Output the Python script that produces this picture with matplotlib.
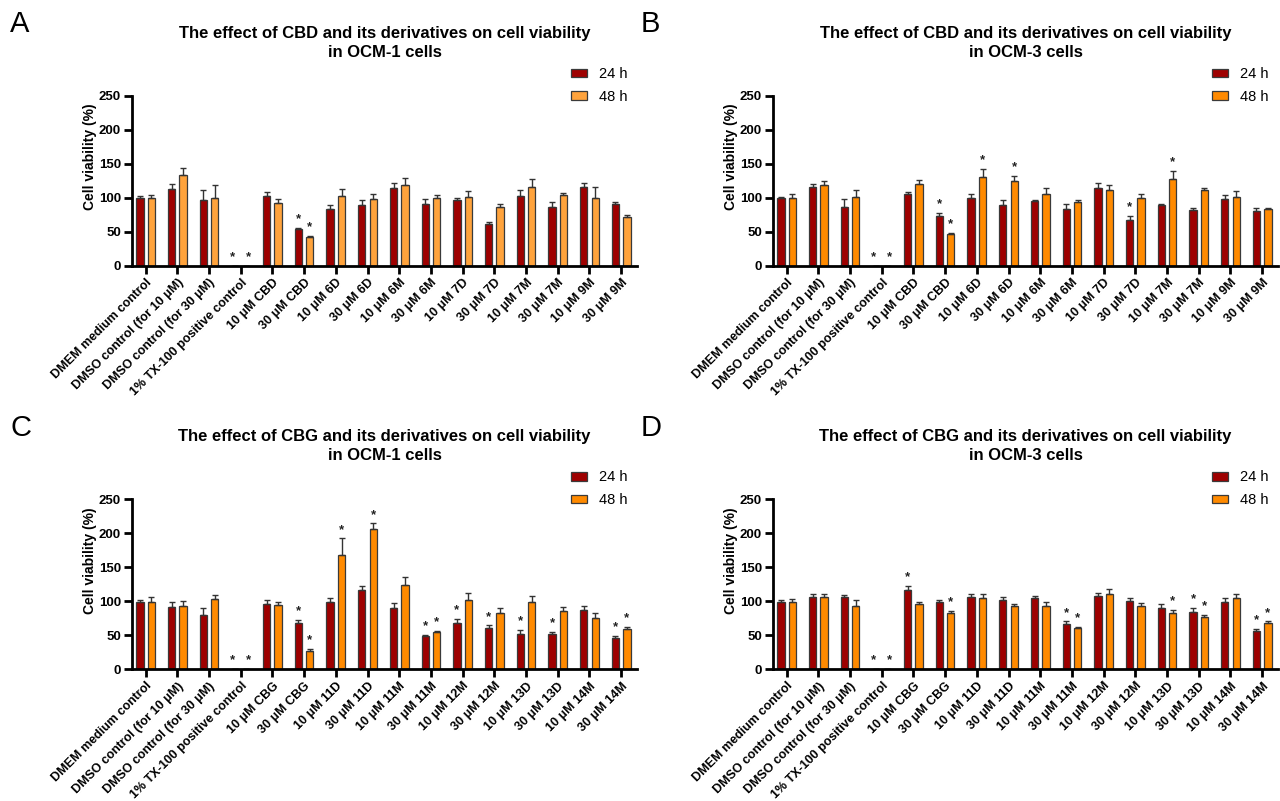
import matplotlib
matplotlib.use("Agg")
import matplotlib.pyplot as plt
from matplotlib.patches import Patch
import numpy as np

plt.rcParams['font.family'] = ['Liberation Sans', 'DejaVu Sans']

# ---------------- data ----------------
cats_cbd = ["DMEM medium control", "DMSO control (for 10 μM)", "DMSO control (for 30 μM)",
            "1% TX-100 positive control", "10 μM CBD", "30 μM CBD", "10 μM 6D", "30 μM 6D",
            "10 μM 6M", "30 μM 6M", "10 μM 7D", "30 μM 7D", "10 μM 7M", "30 μM 7M",
            "10 μM 9M", "30 μM 9M"]
cats_cbg = ["DMEM medium control", "DMSO control (for 10 μM)", "DMSO control (for 30 μM)",
            "1% TX-100 positive control", "10 μM CBG", "30 μM CBG", "10 μM 11D", "30 μM 11D",
            "10 μM 11M", "30 μM 11M", "10 μM 12M", "30 μM 12M", "10 μM 13D", "30 μM 13D",
            "10 μM 14M", "30 μM 14M"]

A_v24 = [99, 113, 96, 0, 103, 54, 83, 89, 115, 91, 96, 62, 102, 87, 116, 91]
A_e24 = [3, 7, 15, 0, 5, 2, 6, 8, 6, 7, 4, 3, 9, 7, 6, 3]
A_v48 = [99, 134, 100, 0, 92, 42, 103, 98, 119, 99, 101, 87, 116, 104, 99, 72]
A_e48 = [5, 10, 19, 0, 6, 2, 10, 7, 10, 5, 9, 4, 11, 3, 17, 2]
A_s24 = [3, 5]
A_s48 = [3, 5]

B_v24 = [99, 116, 86, 0, 105, 73, 99, 90, 95, 84, 115, 67, 89, 82, 98, 81]
B_e24 = [2, 4, 12, 0, 4, 4, 6, 7, 2, 7, 6, 6, 2, 3, 6, 4]
B_v48 = [99, 118, 101, 0, 120, 46, 130, 124, 106, 93, 112, 100, 128, 112, 101, 83]
B_e48 = [6, 7, 11, 0, 6, 2, 12, 8, 9, 3, 6, 6, 11, 3, 9, 2]
B_s24 = [3, 5, 11]
B_s48 = [3, 5, 6, 7, 12]

C_v24 = [99, 91, 80, 0, 95, 68, 98, 116, 90, 49, 68, 61, 52, 51, 87, 46]
C_e24 = [3, 7, 9, 0, 6, 4, 7, 6, 7, 1.5, 5, 3, 5, 3, 6, 2]
C_v48 = [99, 92, 103, 0, 94, 26, 168, 206, 124, 54, 102, 83, 98, 85, 75, 59]
C_e48 = [7, 8, 6, 0, 5, 3, 24, 8, 11, 2.5, 10, 6, 9, 6, 7, 3]
C_s24 = [3, 5, 9, 10, 11, 12, 13, 15]
C_s48 = [3, 5, 6, 7, 9, 15]

D_v24 = [99, 106, 106, 0, 116, 98, 106, 101, 104, 66, 107, 100, 89, 84, 99, 56]
D_e24 = [2, 5, 3, 0, 6, 4, 5, 5, 4, 4, 5, 5, 6, 6, 5, 3]
D_v48 = [99, 106, 92, 0, 95, 83, 105, 92, 92, 60, 111, 92, 83, 77, 105, 68]
D_e48 = [4, 5, 10, 0, 4, 3, 5, 4, 6, 2, 7, 5, 4, 3, 5, 2]
D_s24 = [3, 4, 9, 13, 15]
D_s48 = [3, 5, 9, 12, 13, 15]

titles = ["The effect of CBD and its derivatives on cell viability\nin OCM-1 cells",
          "The effect of CBD and its derivatives on cell viability\nin OCM-3 cells",
          "The effect of CBG and its derivatives on cell viability\nin OCM-1 cells",
          "The effect of CBG and its derivatives on cell viability\nin OCM-3 cells"]
letters = ["A", "B", "C", "D"]
yticks = [0, 50, 100, 150, 200, 250]
series_labels = ["24 h", "48 h"]

RED = "#9E0000"
ORANGE_LIGHT = "#FFA33C"
ORANGE = "#FF8A00"

W, H = 1280, 801
fig = plt.figure(figsize=(W / 100, H / 100), dpi=100)

def ax_rect(left_px, bottom_px):
    w = 505
    h = 170
    return [left_px / W, (H - bottom_px) / H, w / W, h / H]

panels = [
    (ax_rect(132, 265.7), cats_cbd, A_v24, A_e24, A_v48, A_e48, A_s24, A_s48, ORANGE_LIGHT, (10, 24)),
    (ax_rect(773, 265.7), cats_cbd, B_v24, B_e24, B_v48, B_e48, B_s24, B_s48, ORANGE, (641, 24)),
    (ax_rect(132, 669), cats_cbg, C_v24, C_e24, C_v48, C_e48, C_s24, C_s48, ORANGE, (10, 428)),
    (ax_rect(773, 669), cats_cbg, D_v24, D_e24, D_v48, D_e48, D_s24, D_s48, ORANGE, (641, 428)),
]

off = 0.18
bw = 0.23
for i, (rect, cats, v24, e24, v48, e48, s24, s48, c48, lpos) in enumerate(panels):
    ax = fig.add_axes(rect)
    x = np.arange(len(cats))
    ekw = dict(ecolor="#333333", elinewidth=1.0, capsize=2.2, capthick=1.0)
    ax.bar(x - off, v24, bw, color=RED, edgecolor="#3a3a3a", linewidth=0.9,
           yerr=[np.zeros(len(e24)), e24], error_kw=ekw, zorder=2)
    ax.bar(x + off, v48, bw, color=c48, edgecolor="#3a3a3a", linewidth=0.9,
           yerr=[np.zeros(len(e48)), e48], error_kw=ekw, zorder=2)
    for idx in s24:
        dx = -0.26 if v24[idx] == 0 else -off
        ax.text(x[idx] + dx, v24[idx] + e24[idx] + 4, "*", ha="center", va="bottom",
                fontsize=9.5, fontweight="bold", color="#222222")
    for idx in s48:
        dx = 0.26 if v48[idx] == 0 else off
        ax.text(x[idx] + dx, v48[idx] + e48[idx] + 4, "*", ha="center", va="bottom",
                fontsize=9.5, fontweight="bold", color="#222222")
    ax.set_xlim(-0.43, len(cats) - 0.5)
    ax.set_ylim(0, 250)
    ax.set_yticks(yticks)
    ax.set_yticklabels([str(t) for t in yticks], fontsize=9.5, fontweight="bold")
    ax.set_xticks(x)
    ax.set_xticklabels(cats, rotation=45, ha="right", rotation_mode="anchor",
                       fontsize=9.0, fontweight="bold")
    ax.spines["top"].set_visible(False)
    ax.spines["right"].set_visible(False)
    ax.spines["left"].set_linewidth(2)
    ax.spines["bottom"].set_linewidth(2)
    ax.tick_params(axis="both", direction="out", length=6, width=2, pad=2)
    ax.set_ylabel("Cell viability (%)", fontsize=10, fontweight="bold")
    ax.yaxis.set_label_coords(-0.069, 0.64)
    ax.set_title(titles[i], fontsize=12, fontweight="bold", pad=28, linespacing=1.35)
    handles = [Patch(facecolor=RED, edgecolor="#3a3a3a", linewidth=0.9),
               Patch(facecolor=c48, edgecolor="#3a3a3a", linewidth=0.9)]
    ax.legend(handles, series_labels, loc="center left", bbox_to_anchor=(0.855, 1.06),
              frameon=False, fontsize=10.5, handlelength=1.1, handleheight=0.55,
              labelspacing=0.6, handletextpad=0.8, borderpad=0)
    fig.text(lpos[0] / W, 1 - lpos[1] / H, letters[i], fontsize=21, ha="left", va="center")

fig.savefig("out.png", dpi=100)
